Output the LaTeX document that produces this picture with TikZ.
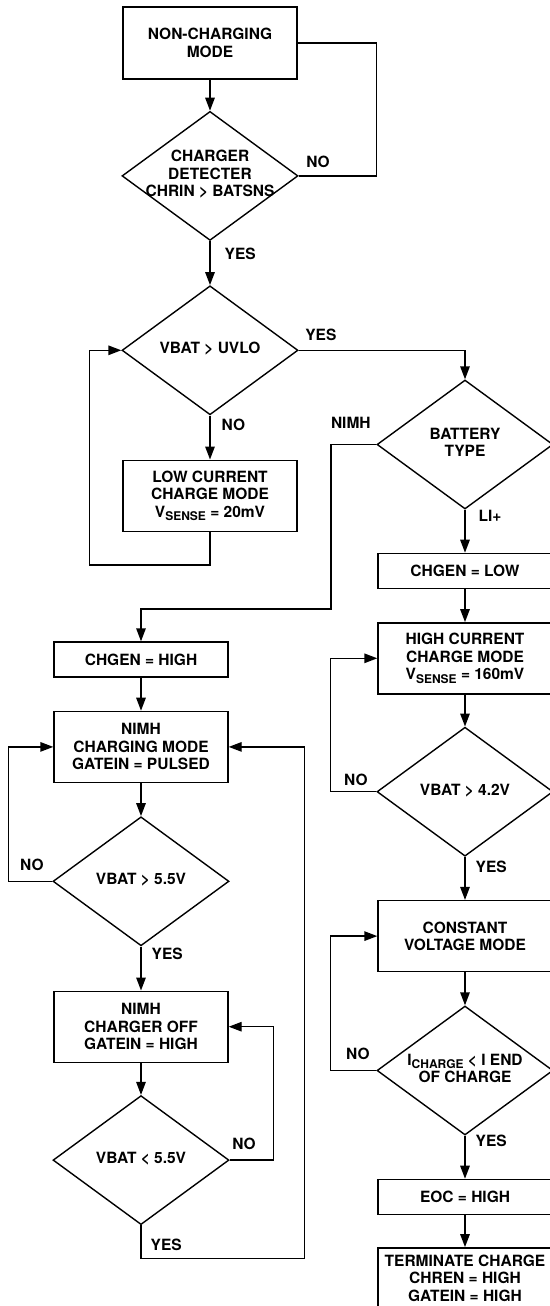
\documentclass[tikz,border=0pt]{standalone}
\usepackage{fontspec}
\setmainfont{TeX Gyre Heros}
\usetikzlibrary{arrows.meta,positioning,shapes.geometric}
\newcommand{\dtext}[1]{\makebox[0pt]{\begin{tabular}{@{}c@{}}#1\end{tabular}}}
\newcommand{\sbs}[1]{\raisebox{-3.5pt}{\fontsize{12}{12}\selectfont #1}}

\begin{document}
\begin{tikzpicture}[x=1pt, y=1pt,
  every node/.style={font=\fontsize{15.5}{17.5}\selectfont\bfseries},
  box/.style={rectangle, draw, line width=1.4pt, minimum width=174pt,
              minimum height=71pt, inner sep=0pt, align=center},
  flat/.style={box, minimum height=35pt},
  dec/.style={diamond, draw, line width=1.4pt, minimum width=176pt,
              minimum height=129pt, inner sep=0pt},
  arr/.style={-{Triangle[length=13pt,width=9.5pt]}, line width=1.4pt},
  wire/.style={line width=1.4pt},
  lbl/.style={inner sep=0pt, pos=0}
]
  \useasboundingbox (0,0) rectangle (549,-1306);
  % top column
  \node[box, minimum height=72pt] (nonchg) at (210,-43) {NON-CHARGING\\MODE};
  \node[dec, below=31pt of nonchg] (chrin)  {\raisebox{8pt}{\dtext{CHARGER\\DETECTER\\CHRIN > BATSNS}}};
  \node[dec, below=44pt of chrin]  (uvlo)   {\dtext{VBAT > UVLO}};
  \node[box, below=44pt of uvlo]   (lowchg) {LOW CURRENT\\CHARGE MODE\\V\sbs{SENSE} = 20mV};
  % Li+ column
  \node[dec] (battype) at (465,-444.5) {\dtext{BATTERY\\TYPE}};
  \node[flat, below=43pt of battype] (chglow) {CHGEN = LOW};
  \node[box, below=33pt of chglow]   (hichg)  {HIGH CURRENT\\CHARGE MODE\\V\sbs{SENSE} = 160mV};
  \node[dec, below=32pt of hichg]    (vli)    {\dtext{VBAT > 4.2V}};
  \node[box, below=43pt of vli]      (cvmode) {CONSTANT\\VOLTAGE MODE};
  \node[dec, below=33pt of cvmode]   (iend)   {\dtext{I\sbs{CHARGE} < I END\\OF CHARGE}};
  \node[flat, below=43pt of iend]    (eoc)    {EOC = HIGH};
  \node[box, below=32pt of eoc]      (term)   {TERMINATE CHARGE\\CHREN = HIGH\\GATEIN = HIGH\rule[-11pt]{0pt}{0pt}};
  % NiMH column
  \node[flat] (chghigh) at (141,-659.5) {CHGEN = HIGH};
  \node[box, below=33pt of chghigh] (nimhchg) {NIMH\\CHARGING MODE\\GATEIN = PULSED};
  \node[dec, below=33pt of nimhchg] (vnimh)   {\dtext{VBAT > 5.5V}};
  \node[box, below=44pt of vnimh]   (nimhoff) {NIMH\\CHARGER OFF\\GATEIN = HIGH};
  \node[dec, below=32pt of nimhoff] (vlow)    {\dtext{VBAT < 5.5V}};
  \coordinate (nimhbend) at (331,-609);

  \draw[arr] (nonchg) -- (chrin);
  \draw[wire] (chrin.east) -- node[lbl, anchor=south west, xshift=7pt, yshift=8pt]{NO} ++(78pt,0) |- (nonchg.east);
  \draw[arr] (chrin) -- node[lbl, anchor=south west, xshift=14pt, yshift=-19pt]{YES} (uvlo);
  \draw[arr] (uvlo.east) -| node[lbl, anchor=south west, xshift=6pt, yshift=9pt]{YES} (battype.north);
  \draw[arr] (uvlo) -- node[lbl, anchor=south west, xshift=11pt, yshift=-16pt]{NO} (lowchg);
  \draw[arr] (lowchg.south) -- ++(0,-33pt) -| ([xshift=-32pt]uvlo.west) -- (uvlo.west);
  \draw[arr] (battype.west) -- node[lbl, anchor=south east, xshift=-5pt, yshift=15.5pt]{NIMH} (battype.west -| nimhbend)
             -- (nimhbend) -| (chghigh.north);
  \draw[arr] (battype) -- node[lbl, anchor=south west, xshift=13pt, yshift=-12pt]{LI+} (chglow);
  \draw[arr] (chglow) -- (hichg);
  \draw[arr] (hichg) -- (vli);
  \draw[arr] (vli.west) -- node[lbl, anchor=south east, xshift=-8pt, yshift=5.5pt]{NO} ++(-46pt,0) |- (hichg.west);
  \draw[arr] (vli) -- node[lbl, anchor=south west, xshift=10pt, yshift=-16pt]{YES} (cvmode);
  \draw[arr] (cvmode) -- (iend);
  \draw[arr] (iend.west) -- node[lbl, anchor=south east, xshift=-6pt, yshift=10.5pt]{NO} ++(-46pt,0) |- (cvmode.west);
  \draw[arr] (iend) -- node[lbl, anchor=south west, xshift=10pt, yshift=-12pt]{YES} (eoc);
  \draw[arr] (eoc) -- (term);
  \draw[arr] (chghigh) -- (nimhchg);
  \draw[arr] (nimhchg) -- (vnimh);
  \draw[arr] (vnimh.west) -- node[lbl, anchor=south east, xshift=-8pt, yshift=9.5pt]{NO} ++(-44pt,0) |- (nimhchg.west);
  \draw[arr] (vnimh) -- node[lbl, anchor=south west, xshift=10pt, yshift=-14pt]{YES} (nimhoff);
  \draw[arr] (nimhoff) -- (vlow);
  \draw[arr] (vlow.east) -- node[lbl, anchor=south west, xshift=2pt, yshift=9.5pt]{NO} ++(44pt,0) |- (nimhoff.east);
  \draw[arr] (vlow.south) -- node[lbl, anchor=south west, xshift=9pt, yshift=-26pt]{YES} ++(0,-33pt)
             -| ([xshift=76pt]nimhchg.east) -- (nimhchg.east);
\end{tikzpicture}
\end{document}
